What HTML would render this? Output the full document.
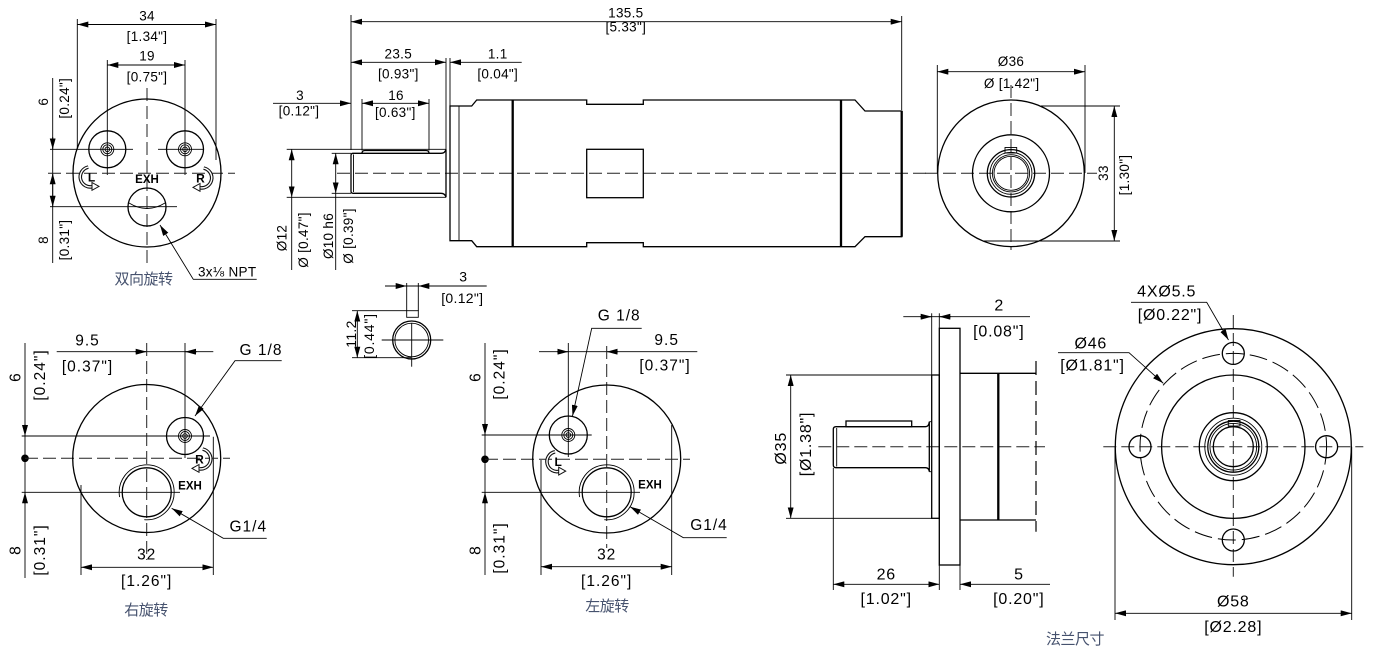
<!DOCTYPE html>
<html><head><meta charset="utf-8"><style>
html,body{margin:0;padding:0;background:#fff}
svg{display:block}
.o{stroke:#000;stroke-width:1.3;fill:none}
.t{stroke:#000;stroke-width:0.9;fill:none}
.c{stroke:#222;stroke-width:1;fill:none;stroke-dasharray:13 5}
.k{stroke:#000;stroke-width:2.3;fill:none}
text{font-family:"Liberation Sans",sans-serif;fill:#000;text-anchor:middle}
.d{font-size:13.5px;letter-spacing:0.3px}
.D{font-size:15.5px;letter-spacing:1px}
.F{font-size:16px;letter-spacing:0.8px}
.e{font-size:11.5px;font-weight:bold}
.cn{font-family:"Liberation Sans","Noto Sans CJK SC",sans-serif;font-size:15px;fill:#46526e;letter-spacing:-0.5px}
</style></head><body>
<svg width="1374" height="651" viewBox="0 0 1374 651" xmlns="http://www.w3.org/2000/svg">
<defs>
<marker id="a" viewBox="0 0 11 6" refX="11" refY="3" markerWidth="11" markerHeight="6" markerUnits="userSpaceOnUse" orient="auto-start-reverse"><path d="M0,0L11,3L0,6z" fill="#000"/></marker>
<g id="Ls">
<path d="M-1.7,-9.9 A10,10 0 1,0 3.4,9.4" stroke="#111" stroke-width="3.6" fill="none"/>
<path d="M-1.7,-9.9 A10,10 0 1,0 3.4,9.4" stroke="#fff" stroke-width="1.4" fill="none"/>
<path d="M2,5.5 L9,9.4 L2,13.3 Z" fill="#fff" stroke="#111" stroke-width="1"/>
</g>
<g id="Rs">
<path d="M1.7,-9.9 A10,10 0 1,1 -3.4,9.4" stroke="#111" stroke-width="3.6" fill="none"/>
<path d="M1.7,-9.9 A10,10 0 1,1 -3.4,9.4" stroke="#fff" stroke-width="1.4" fill="none"/>
<path d="M-2,5.5 L-9,9.4 L-2,13.3 Z" fill="#fff" stroke="#111" stroke-width="1"/>
</g>
</defs>
<rect width="1374" height="651" fill="#fff"/>

<!-- ================= TOP LEFT VIEW ================= -->
<g class="t">
<line x1="77.3" y1="19" x2="77.3" y2="148"/>
<line x1="216" y1="19" x2="216" y2="160"/>
<line x1="77.3" y1="24.5" x2="216" y2="24.5" marker-start="url(#a)" marker-end="url(#a)"/>
<line x1="107.3" y1="60" x2="107.3" y2="175"/>
<line x1="185" y1="60" x2="185" y2="175"/>
<line x1="107.3" y1="65" x2="185" y2="65" marker-start="url(#a)" marker-end="url(#a)"/>
<line x1="50" y1="149.3" x2="133" y2="149.3"/>
<line x1="158" y1="149.3" x2="203" y2="149.3"/>
<line x1="50" y1="206.7" x2="177" y2="206.7"/>
<line x1="52.7" y1="78" x2="52.7" y2="263"/>
<line x1="52.7" y1="137" x2="52.7" y2="149.3" marker-end="url(#a)"/>
<line x1="52.7" y1="173.3" x2="52.7" y2="206.7" marker-start="url(#a)" marker-end="url(#a)"/>
<polyline points="160,225 193.3,279.3 256.7,279.3" marker-start="url(#a)"/>
</g>
<line class="c" x1="48" y1="173.3" x2="235" y2="173.3"/>
<line class="c" x1="147" y1="88" x2="147" y2="263"/>
<circle cx="147" cy="173" r="74" class="o" stroke-width="1.5"/>
<circle cx="107.3" cy="149.3" r="18.5" class="o"/>
<circle cx="107.3" cy="149.3" r="6.5" class="t"/><circle cx="107.3" cy="149.3" r="4.5" class="t"/><circle cx="107.3" cy="149.3" r="2.3" class="t"/>
<circle cx="185" cy="149.3" r="18.5" class="o"/>
<circle cx="185" cy="149.3" r="6.5" class="t"/><circle cx="185" cy="149.3" r="4.5" class="t"/><circle cx="185" cy="149.3" r="2.3" class="t"/>
<circle cx="147" cy="207" r="19" class="o"/>
<path d="M129,203 Q147,214 165,203" class="t"/>
<text class="e" x="147" y="183">EXH</text>
<g transform="translate(90,177)"><use href="#Ls"/><text x="1.5" y="4.5" font-weight="bold" font-size="12">L</text></g>
<g transform="translate(202,178)"><use href="#Rs"/><text x="-1.5" y="4.5" font-weight="bold" font-size="12">R</text></g>
<text class="d" x="147" y="20.5">34</text>
<text class="d" x="147" y="41">[1.34"]</text>
<text class="d" x="147" y="60.7">19</text>
<text class="d" x="147" y="81.5">[0.75"]</text>
<text class="d" transform="translate(48.1,101.7) rotate(-90)">6</text>
<text class="d" transform="translate(68.8,98.3) rotate(-90)">[0.24"]</text>
<text class="d" transform="translate(48.1,240) rotate(-90)">8</text>
<text class="d" transform="translate(68.8,240) rotate(-90)">[0.31"]</text>
<text class="d" x="198" y="276.5" style="text-anchor:start">3x⅛ NPT</text>
<text class="cn" x="143.5" y="284">双向旋转</text>

<!-- ================= TOP MIDDLE SIDE VIEW ================= -->
<g class="t">
<line x1="351" y1="15" x2="351" y2="150"/>
<line x1="901.7" y1="16" x2="901.7" y2="110"/>
<line x1="351" y1="21.7" x2="901.7" y2="21.7" marker-start="url(#a)" marker-end="url(#a)"/>
<line x1="446" y1="58" x2="446" y2="149.3"/>
<line x1="450" y1="58" x2="450" y2="106"/>
<line x1="351" y1="62.3" x2="446" y2="62.3" marker-start="url(#a)" marker-end="url(#a)"/>
<line x1="521.7" y1="62.3" x2="450" y2="62.3" marker-end="url(#a)"/>
<line x1="362" y1="99" x2="362" y2="150.5"/>
<line x1="429" y1="99" x2="429" y2="150.5"/>
<line x1="273" y1="103.3" x2="351" y2="103.3" marker-end="url(#a)"/>
<line x1="362" y1="103.3" x2="429" y2="103.3" marker-start="url(#a)" marker-end="url(#a)"/>
<line x1="286.7" y1="149.3" x2="446" y2="149.3"/>
<line x1="286.7" y1="197.3" x2="446" y2="197.3"/>
<line x1="331.7" y1="153.3" x2="351" y2="153.3"/>
<line x1="331.7" y1="193.3" x2="351" y2="193.3"/>
<line x1="291.7" y1="149.3" x2="291.7" y2="197.3" marker-start="url(#a)" marker-end="url(#a)"/>
<line x1="291.7" y1="197.3" x2="291.7" y2="270"/>
<line x1="335.7" y1="153.3" x2="335.7" y2="193.3" marker-start="url(#a)" marker-end="url(#a)"/>
<line x1="335.7" y1="193.3" x2="335.7" y2="270"/>
<line x1="353.5" y1="154.5" x2="353.5" y2="192"/>
<line x1="459" y1="106" x2="459" y2="240.7"/>
</g>
<line class="c" x1="337" y1="173.3" x2="930" y2="173.3"/>
<path class="o" d="M353,153.3 L441,153.3 Q445,153.3 446,149.3 L446,197.3 Q445,193.3 441,193.3 L353,193.3 Q351,193.3 351,191 L351,155.5 Q351,153.3 353,153.3 Z"/>
<path class="o" d="M362,153.3 Q362,150.5 365,150.5 L426,150.5 Q429,150.5 429,153.3"/>
<path class="o" d="M450,106 L471.7,106 L476.7,100 L586.7,100 L586.7,104.3 L643.3,104.3 L643.3,100 L855,100 L865,111 L901.7,111 L901.7,236.7 L865,236.7 L855,246.7 L643.3,246.7 L643.3,242.7 L586.7,242.7 L586.7,246.7 L476.7,246.7 L471.7,240.7 L450,240.7 Z"/>
<line class="k" x1="512.7" y1="100" x2="512.7" y2="246.7"/>
<line class="k" x1="841" y1="100" x2="841" y2="246.7"/>
<line class="k" x1="901.7" y1="111" x2="901.7" y2="236.7"/>
<rect class="o" x="586.7" y="149.3" width="56.6" height="48.4"/>
<text class="d" x="625.8" y="17.3">135.5</text>
<text class="d" x="625.8" y="31.5">[5.33"]</text>
<text class="d" x="398.3" y="58.3">23.5</text>
<text class="d" x="398.3" y="78.5">[0.93"]</text>
<text class="d" x="497.7" y="58.3">1.1</text>
<text class="d" x="497.7" y="78.5">[0.04"]</text>
<text class="d" x="300" y="100">3</text>
<text class="d" x="299" y="115.5">[0.12"]</text>
<text class="d" x="396" y="100">16</text>
<text class="d" x="395.3" y="117">[0.63"]</text>
<text class="d" transform="translate(286.5,238) rotate(-90)">Ø12</text>
<text class="d" transform="translate(308.1,240) rotate(-90)">Ø [0.47"]</text>
<text class="d" transform="translate(333.1,236) rotate(-90)">Ø10 h6</text>
<text class="d" transform="translate(353.1,236) rotate(-90)">Ø [0.39"]</text>

<!-- ================= RIGHT END VIEW ================= -->
<g class="t">
<line x1="937.3" y1="65" x2="937.3" y2="173"/>
<line x1="1085" y1="65" x2="1085" y2="173"/>
<line x1="937.3" y1="71.7" x2="1085" y2="71.7" marker-start="url(#a)" marker-end="url(#a)"/>
<line x1="1041" y1="106" x2="1120" y2="106"/>
<line x1="983" y1="241" x2="1120" y2="241"/>
<line x1="1114.3" y1="106" x2="1114.3" y2="241" marker-start="url(#a)" marker-end="url(#a)"/>
</g>
<line class="c" x1="925" y1="173.3" x2="1097" y2="173.3"/>
<line class="c" x1="1011" y1="85" x2="1011" y2="250"/>
<circle cx="1011" cy="173.3" r="73.3" class="o"/>
<circle cx="1011" cy="173.3" r="38.5" class="o"/>
<circle cx="1011" cy="173.3" r="23.7" class="o"/>
<circle cx="1011" cy="173.3" r="21" class="t"/>
<circle cx="1011" cy="173.3" r="18.6" class="t"/>
<circle cx="1011" cy="173.3" r="17" class="t"/>
<rect class="t" x="1005" y="147.5" width="11.7" height="5.5" fill="#fff"/>
<text class="d" x="1011" y="66">Ø36</text>
<text class="d" x="1011.7" y="88">Ø [1.42"]</text>
<text class="d" transform="translate(1108,173) rotate(-90)">33</text>
<text class="d" transform="translate(1129,175) rotate(-90)">[1.30"]</text>

<!-- ================= KEY DETAIL ================= -->
<g class="t">
<line x1="406.7" y1="283" x2="406.7" y2="311"/>
<line x1="418.3" y1="283" x2="418.3" y2="311"/>
<line x1="385" y1="286" x2="486.7" y2="286"/>
<line x1="395" y1="286" x2="406.7" y2="286" marker-end="url(#a)"/>
<line x1="430" y1="286" x2="418.3" y2="286" marker-end="url(#a)"/>
<line x1="352" y1="310.7" x2="406.7" y2="310.7"/>
<line x1="352" y1="357.7" x2="411" y2="357.7"/>
<line x1="357.3" y1="310.7" x2="357.3" y2="357.7" marker-start="url(#a)" marker-end="url(#a)"/>
<line x1="381.7" y1="340" x2="443.3" y2="340"/>
<line x1="411.7" y1="323" x2="411.7" y2="366.7"/>
</g>
<circle cx="411.7" cy="340" r="19" class="o"/>
<circle cx="411.7" cy="340" r="16.8" class="t"/>
<rect class="t" x="406.7" y="310.7" width="11.6" height="6.6" fill="#fff"/>
<text class="d" x="463.3" y="281.7" style="font-size:14px">3</text>
<text class="d" x="462.3" y="303" style="font-size:14px">[0.12"]</text>
<text class="d" transform="translate(355.8,334) rotate(-90)" style="font-size:14px">11.2</text>
<text class="d" transform="translate(374,336) rotate(-90)" style="font-size:14px;letter-spacing:0.8px">[0.44"]</text>

<!-- ================= BOTTOM LEFT VIEW ================= -->
<g class="t">
<line x1="21.7" y1="436" x2="210" y2="436"/>
<line x1="21.7" y1="492.3" x2="180" y2="492.3"/>
<line x1="25" y1="343" x2="25" y2="578"/>
<line x1="25" y1="424" x2="25" y2="436" marker-end="url(#a)"/>
<line x1="25" y1="504" x2="25" y2="492.3" marker-end="url(#a)"/>
<line x1="56.7" y1="351.7" x2="213.3" y2="351.7"/>
<line x1="135" y1="351.7" x2="146.7" y2="351.7" marker-end="url(#a)"/>
<line x1="197" y1="351.7" x2="185" y2="351.7" marker-end="url(#a)"/>
<line x1="185" y1="343" x2="185" y2="458"/>
<line x1="81" y1="485" x2="81" y2="575"/>
<line x1="213.3" y1="436.7" x2="213.3" y2="575"/>
<line x1="81" y1="567.3" x2="213.3" y2="567.3" marker-start="url(#a)" marker-end="url(#a)"/>
<polyline points="195,416 235,360.7 281.7,360.7" marker-start="url(#a)"/>
<polyline points="171.7,508.3 223.3,538.3 266.7,538.3" marker-start="url(#a)"/>
</g>
<circle cx="25" cy="458.3" r="3.8" fill="#000"/>
<line class="c" x1="25" y1="458.3" x2="230" y2="458.3"/>
<line class="c" x1="146.7" y1="343" x2="146.7" y2="560"/>
<circle cx="146.7" cy="458.5" r="74" class="o" stroke-width="1.5"/>
<circle cx="185" cy="436" r="18.5" class="o"/>
<circle cx="185" cy="436" r="6.5" class="t"/><circle cx="185" cy="436" r="4.5" class="t"/><circle cx="185" cy="436" r="2.3" class="t"/>
<circle cx="146.7" cy="492.3" r="24.5" class="o"/>
<path d="M119.6,497.1 A27.5,27.5 0 1,1 144.3,519.7" class="t"/>
<g transform="translate(201,459)"><use href="#Rs"/><text x="-1.5" y="4.5" font-weight="bold" font-size="12">R</text></g>
<text class="e" x="190" y="489.3">EXH</text>
<text class="D" x="87.5" y="345.7">9.5</text>
<text class="D" x="87.5" y="371.7">[0.37"]</text>
<text class="D" x="261" y="355">G 1/8</text>
<text class="D" x="248.3" y="531.7">G1/4</text>
<text class="D" x="146.7" y="559.5">32</text>
<text class="D" x="146.7" y="586">[1.26"]</text>
<text class="D" transform="translate(20.5,377) rotate(-90)">6</text>
<text class="D" transform="translate(45,375) rotate(-90)">[0.24"]</text>
<text class="D" transform="translate(20.5,550) rotate(-90)">8</text>
<text class="D" transform="translate(45,550) rotate(-90)">[0.31"]</text>
<text class="cn" x="146" y="615">右旋转</text>

<!-- ================= BOTTOM MIDDLE VIEW ================= -->
<g class="t">
<line x1="481.7" y1="435" x2="591.7" y2="435"/>
<line x1="481.7" y1="492.3" x2="640" y2="492.3"/>
<line x1="485" y1="343" x2="485" y2="575"/>
<line x1="485" y1="423" x2="485" y2="435" marker-end="url(#a)"/>
<line x1="485" y1="504" x2="485" y2="492.3" marker-end="url(#a)"/>
<line x1="539" y1="351.7" x2="697.3" y2="351.7"/>
<line x1="557" y1="351.7" x2="568.3" y2="351.7" marker-end="url(#a)"/>
<line x1="618" y1="351.7" x2="606.7" y2="351.7" marker-end="url(#a)"/>
<line x1="568.3" y1="343" x2="568.3" y2="457"/>
<line x1="541" y1="460" x2="541" y2="575"/>
<line x1="671.7" y1="425" x2="671.7" y2="575"/>
<line x1="541" y1="566.7" x2="671.7" y2="566.7" marker-start="url(#a)" marker-end="url(#a)"/>
<polyline points="572.5,416 591.7,328.3 641.7,328.3" marker-start="url(#a)"/>
<polyline points="630,506.7 683.3,537.7 726.7,537.7" marker-start="url(#a)"/>
</g>
<circle cx="485" cy="459.3" r="3.8" fill="#000"/>
<line class="c" x1="485" y1="459.3" x2="690" y2="459.3"/>
<line class="c" x1="606.7" y1="346" x2="606.7" y2="548"/>
<circle cx="606.7" cy="459" r="74" class="o" stroke-width="1.5"/>
<circle cx="568.3" cy="435" r="19" class="o"/>
<circle cx="568.3" cy="435" r="6.5" class="t"/><circle cx="568.3" cy="435" r="4.5" class="t"/><circle cx="568.3" cy="435" r="2.3" class="t"/>
<circle cx="606.7" cy="492.3" r="24.5" class="o"/>
<path d="M579.6,497.1 A27.5,27.5 0 1,1 604.3,519.7" class="t"/>
<g transform="translate(556.7,461.7)"><use href="#Ls"/><text x="1.5" y="4.5" font-weight="bold" font-size="12">L</text></g>
<text class="e" x="650" y="488.3">EXH</text>
<text class="D" x="666.7" y="345">9.5</text>
<text class="D" x="665" y="370.5">[0.37"]</text>
<text class="D" x="619.2" y="320.7">G 1/8</text>
<text class="D" x="709" y="530">G1/4</text>
<text class="D" x="606.7" y="559.5">32</text>
<text class="D" x="606.7" y="586">[1.26"]</text>
<text class="D" transform="translate(480.5,377) rotate(-90)">6</text>
<text class="D" transform="translate(504.6,374) rotate(-90)">[0.24"]</text>
<text class="D" transform="translate(480.5,550) rotate(-90)">8</text>
<text class="D" transform="translate(504.6,548) rotate(-90)">[0.31"]</text>
<text class="cn" x="607" y="611">左旋转</text>

<!-- ================= FLANGE SIDE VIEW ================= -->
<g class="t">
<line x1="786" y1="375" x2="931.7" y2="375"/>
<line x1="786" y1="518.3" x2="931.7" y2="518.3"/>
<line x1="790.7" y1="375" x2="790.7" y2="518.3" marker-start="url(#a)" marker-end="url(#a)"/>
<line x1="931.7" y1="313.3" x2="931.7" y2="375"/>
<line x1="939.3" y1="313.3" x2="939.3" y2="328.3"/>
<line x1="903.3" y1="316.7" x2="1030" y2="316.7"/>
<line x1="920" y1="316.7" x2="931.7" y2="316.7" marker-end="url(#a)"/>
<line x1="951" y1="316.7" x2="939.3" y2="316.7" marker-end="url(#a)"/>
<line x1="833.3" y1="468" x2="833.3" y2="590"/>
<line x1="939.3" y1="565" x2="939.3" y2="590"/>
<line x1="960" y1="565" x2="960" y2="590"/>
<line x1="833.3" y1="584.3" x2="939.3" y2="584.3" marker-start="url(#a)" marker-end="url(#a)"/>
<line x1="1050" y1="584.3" x2="960" y2="584.3" marker-end="url(#a)"/>
<line x1="836.7" y1="428" x2="836.7" y2="466.5"/>
<line x1="929.3" y1="421.7" x2="931.7" y2="421.7"/>
<line x1="929.3" y1="471.7" x2="931.7" y2="471.7"/>
</g>
<line class="c" x1="818.3" y1="446.7" x2="1045" y2="446.7"/>
<rect class="o" x="939.3" y="328.3" width="20.7" height="236.7"/>
<rect class="o" x="931.7" y="375" width="7.6" height="143.3"/>
<path class="o" d="M960,373.3 L1036,373.3 M960,520 L1036,520"/>
<line class="k" x1="998.3" y1="373.3" x2="998.3" y2="520"/>
<line x1="1036" y1="361" x2="1036" y2="531.7" stroke="#000" stroke-width="1.2" stroke-dasharray="14 6"/>
<path class="o" d="M836,426.7 L925.5,426.7 Q928.8,426.7 929.3,421.7 L929.3,471.7 Q928.8,467.7 925.5,467.7 L836,467.7 Q833.3,467.7 833.3,465 L833.3,429.4 Q833.3,426.7 836,426.7 Z"/>
<rect class="o" x="846" y="421" width="65.7" height="5.7" fill="#fff"/>
<text class="F" x="999.2" y="310.7">2</text>
<text class="F" x="998.8" y="336.5">[0.08"]</text>
<text class="F" x="886.3" y="579.3">26</text>
<text class="F" x="886.2" y="604">[1.02"]</text>
<text class="F" x="1019" y="579.3">5</text>
<text class="F" x="1018.8" y="604">[0.20"]</text>
<text class="F" transform="translate(785.8,448.3) rotate(-90)">Ø35</text>
<text class="F" transform="translate(810.8,444) rotate(-90)">[Ø1.38"]</text>

<!-- ================= FLANGE FRONT VIEW ================= -->
<g class="t">
<line x1="1115" y1="446.7" x2="1115" y2="620"/>
<line x1="1351.7" y1="446.7" x2="1351.7" y2="620"/>
<line x1="1115" y1="613.3" x2="1351.7" y2="613.3" marker-start="url(#a)" marker-end="url(#a)"/>
<polyline points="1228.5,340 1206.7,302.3 1131,302.3" marker-start="url(#a)"/>
<polyline points="1163.3,383.3 1129,352.7 1058,352.7" marker-start="url(#a)"/>
</g>
<line class="c" x1="1103.3" y1="446.7" x2="1363.3" y2="446.7"/>
<line class="c" x1="1233.3" y1="315" x2="1233.3" y2="576.7"/>
<circle cx="1233.3" cy="446.7" r="118" class="o"/>
<circle cx="1233.3" cy="446.7" r="93.3" fill="none" stroke="#000" stroke-width="1" stroke-dasharray="18 6"/>
<circle cx="1233.3" cy="446.7" r="71.7" class="o"/>
<circle cx="1233.3" cy="353.4" r="11" class="o"/>
<circle cx="1140" cy="446.7" r="11" class="o"/>
<circle cx="1326.6" cy="446.7" r="11" class="o"/>
<circle cx="1233.3" cy="540" r="11" class="o"/>
<circle cx="1233.3" cy="446.7" r="34" class="o"/>
<circle cx="1233.3" cy="446.7" r="28.5" class="t"/>
<circle cx="1233.3" cy="446.7" r="25.5" class="o"/>
<circle cx="1233.3" cy="446.7" r="23.3" class="t"/>
<circle cx="1233.3" cy="446.7" r="20" class="o"/>
<rect class="t" x="1228.3" y="420.5" width="11.7" height="5.5" fill="#fff"/>
<text class="F" x="1166.7" y="296.7">4XØ5.5</text>
<text class="F" x="1170" y="320">[Ø0.22"]</text>
<text class="F" x="1090.8" y="348.3">Ø46</text>
<text class="F" x="1092.5" y="370.5">[Ø1.81"]</text>
<text class="F" x="1233.3" y="606.7">Ø58</text>
<text class="F" x="1233.3" y="632">[Ø2.28]</text>
<text class="cn" x="1075" y="644">法兰尺寸</text>
</svg>
</body></html>
